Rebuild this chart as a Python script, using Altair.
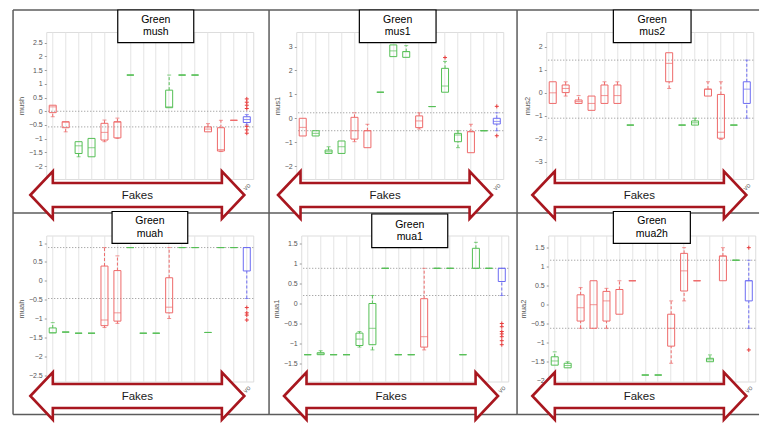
import altair as alt
import pandas as pd

CATS = [f"S{i}" for i in range(1, 16)] + ["VO"]
GROUPS = ["R", "G", "B"]

# ---------------- panel 1 : mush
MUSH_GRP = ["R", "R", "G", "G", "R", "R", "G", None, None, "G", "G", "G", "R", "R", "R", "B"]
MUSH_LO = [-0.20, -0.75, -1.66, -1.66, -1.11, -0.99, 1.32, None, None, 0.13, 1.32, 1.32, -0.75, -1.47, -0.33, -0.50]
MUSH_Q1 = [-0.05, -0.60, -1.54, -1.66, -1.05, -0.97, 1.32, None, None, 0.13, 1.32, 1.32, -0.75, -1.45, -0.33, -0.41]
MUSH_MED = [0.16, -0.40, -1.26, -1.33, -0.77, -0.40, 1.32, None, None, 0.16, 1.32, 1.32, -0.65, -1.40, -0.33, -0.30]
MUSH_Q3 = [0.22, -0.38, -1.11, -0.99, -0.44, -0.38, 1.32, None, None, 0.77, 1.32, 1.32, -0.57, -0.60, -0.33, -0.20]
MUSH_HI = [0.22, -0.38, -1.11, -0.99, -0.32, -0.25, 1.32, None, None, 1.32, 1.32, 1.32, -0.45, -0.33, -0.33, -0.12]
MUSH_OUT_CAT = ["VO"] * 7
MUSH_OUT_VAL = [0.45, 0.33, 0.22, 0.10, -0.55, -0.68, -0.80]
MUSH_REF = [0.0, -0.57]
MUSH_TICKS = [-2, -1.5, -1, -0.5, 0, 0.5, 1, 1.5, 2, 2.5]

# ---------------- panel 2 : mus1
MUS1_GRP = ["R", "G", "G", "G", "R", "R", "G", "G", "G", "R", "G", "G", "G", "R", "G", "B"]
MUS1_LO = [-0.74, -0.74, -1.47, -1.47, -0.98, -1.23, 1.09, 2.58, 2.55, -0.45, 0.49, 1.09, -1.23, -1.44, -0.52, -0.52]
MUS1_Q1 = [-0.74, -0.74, -1.47, -1.47, -0.87, -1.23, 1.09, 2.58, 2.55, -0.39, 0.49, 1.09, -0.98, -1.44, -0.52, -0.24]
MUS1_MED = [-0.38, -0.63, -1.40, -1.19, -0.52, -0.52, 1.09, 2.82, 2.79, -0.11, 0.49, 1.35, -0.70, -0.56, -0.52, -0.13]
MUS1_Q3 = [0.00, -0.52, -1.33, -0.95, 0.04, -0.52, 1.09, 3.07, 2.79, 0.10, 0.49, 2.09, -0.63, -0.56, -0.52, 0.00]
MUS1_HI = [0.00, -0.52, -1.19, -0.95, 0.23, -0.25, 1.09, 3.07, 3.04, 0.23, 0.49, 2.38, -0.52, -0.25, -0.52, 0.23]
MUS1_OUT_CAT = ["S12", "VO", "VO"]
MUS1_OUT_VAL = [2.54, 0.50, -0.73]
MUS1_REF = [0.23, -0.52]
MUS1_TICKS = [-2, -1, 0, 1, 2, 3]

# ---------------- panel 3 : mus2
MUS2_GRP = ["R", "R", "R", "R", "R", "R", "G", None, None, "R", "G", "G", "R", "R", "G", "B"]
MUS2_LO = [-0.46, -0.14, -0.46, -0.76, -0.46, -0.46, -1.40, None, None, 0.19, -1.40, -1.40, -0.14, -2.02, -1.40, -1.10]
MUS2_Q1 = [-0.46, 0.01, -0.46, -0.76, -0.46, -0.46, -1.40, None, None, 0.48, -1.40, -1.40, -0.14, -1.97, -1.40, -0.46]
MUS2_MED = [0.00, 0.19, -0.38, -0.46, -0.12, -0.12, -1.40, None, None, 1.28, -1.40, -1.30, 0.16, -1.71, -1.40, 0.16]
MUS2_Q3 = [0.48, 0.34, -0.31, -0.14, 0.34, 0.34, -1.40, None, None, 1.74, -1.40, -1.22, 0.16, -0.07, -1.40, 0.48]
MUS2_HI = [0.48, 0.48, -0.12, -0.14, 0.48, 0.48, -1.40, None, None, 1.74, -1.40, -1.10, 0.48, 0.48, -1.40, 1.42]
MUS2_OUT_CAT = []
MUS2_OUT_VAL = []
MUS2_REF = [1.42, -1.10]
MUS2_TICKS = [-3, -2, -1, 0, 1, 2]

# ---------------- panel 4 : muah
MUAH_GRP = ["G", "G", "G", "G", "R", "R", "G", "G", "G", "R", "G", "G", "G", "G", "G", "B"]
MUAH_LO = [-1.38, -1.36, -1.39, -1.39, -1.24, -1.13, 0.88, -1.39, -1.39, -1.00, 0.88, 0.88, -1.37, 0.88, 0.88, -0.47]
MUAH_Q1 = [-1.38, -1.36, -1.39, -1.39, -1.19, -1.07, 0.88, -1.39, -1.39, -0.85, 0.88, 0.88, -1.37, 0.88, 0.88, 0.26]
MUAH_MED = [-1.38, -1.36, -1.39, -1.39, -1.04, -0.85, 0.88, -1.39, -1.39, -0.70, 0.88, 0.88, -1.37, 0.88, 0.88, 0.88]
MUAH_Q3 = [-1.25, -1.36, -1.39, -1.39, 0.39, 0.27, 0.88, -1.39, -1.39, 0.08, 0.88, 0.88, -1.37, 0.88, 0.88, 0.88]
MUAH_HI = [-1.11, -1.36, -1.39, -1.39, 0.88, 0.66, 0.88, -1.39, -1.39, 0.88, 0.88, 0.88, -1.37, 0.88, 0.88, 0.88]
MUAH_OUT_CAT = ["VO"] * 4
MUAH_OUT_VAL = [-0.71, -0.85, -0.91, -1.04]
MUAH_REF = [0.88, -0.47]
MUAH_TICKS = [-2.5, -2, -1.5, -1, -0.5, 0, 0.5, 1]

# ---------------- panel 5 : mua1
MUA1_GRP = ["G", "G", "G", "G", "G", "G", "G", "G", "G", "R", "G", "G", "G", "G", "G", "B"]
MUA1_LO = [-1.28, -1.28, -1.28, -1.28, -1.09, -1.16, 0.88, -1.28, -1.28, -1.16, 0.88, 0.88, -1.28, 0.88, 0.88, 0.20]
MUA1_Q1 = [-1.28, -1.28, -1.28, -1.28, -1.05, -1.03, 0.88, -1.28, -1.28, -1.09, 0.88, 0.88, -1.28, 0.88, 0.88, 0.55]
MUA1_MED = [-1.28, -1.26, -1.28, -1.28, -0.89, -0.62, 0.88, -1.28, -1.28, -0.83, 0.88, 0.88, -1.28, 0.88, 0.88, 0.88]
MUA1_Q3 = [-1.28, -1.23, -1.28, -1.28, -0.74, 0.00, 0.88, -1.28, -1.28, 0.12, 0.88, 0.88, -1.28, 1.38, 0.88, 0.88]
MUA1_HI = [-1.28, -1.18, -1.28, -1.28, -0.70, 0.20, 0.88, -1.28, -1.28, 0.88, 0.88, 0.88, -1.28, 1.53, 0.88, 0.88]
MUA1_OUT_CAT = ["VO"] * 7
MUA1_OUT_VAL = [-0.50, -0.58, -0.70, -0.76, -0.83, -0.93, -1.03]
MUA1_REF = [0.88, 0.20]
MUA1_TICKS = [-1.5, -1, -0.5, 0, 0.5, 1, 1.5]

# ---------------- panel 6 : mua2h
MUA2_GRP = ["G", "G", "R", "R", "R", "R", "R", "G", "G", "R", "R", "R", "G", "R", "G", "B"]
MUA2_LO = [-1.59, -1.66, -0.62, -0.62, -0.62, -0.25, 0.63, -1.85, -1.85, -1.54, 0.10, 0.63, -1.50, 0.63, 1.17, -0.62]
MUA2_Q1 = [-1.59, -1.66, -0.43, -0.62, -0.43, -0.25, 0.63, -1.85, -1.85, -1.09, 0.36, 0.63, -1.50, 0.63, 1.17, 0.10]
MUA2_MED = [-1.48, -1.60, -0.08, 0.00, 0.10, 0.40, 0.63, -1.85, -1.85, -0.62, 0.89, 0.63, -1.45, 1.28, 1.17, 0.63]
MUA2_Q3 = [-1.37, -1.54, 0.26, 0.63, 0.35, 0.40, 0.63, -1.85, -1.85, -0.25, 1.35, 0.63, -1.41, 1.28, 1.17, 0.63]
MUA2_HI = [-1.24, -1.50, 0.45, 0.63, 0.43, 0.63, 0.63, -1.85, -1.85, 0.10, 1.50, 0.63, -1.32, 1.50, 1.17, 1.17]
MUA2_OUT_CAT = ["VO", "VO"]
MUA2_OUT_VAL = [1.50, -1.19]
MUA2_REF = [1.17, -0.62]
MUA2_TICKS = [-2, -1.5, -1, -0.5, 0, 0.5, 1, 1.5]

# ---------------- styling / layout
FONT = "Liberation Sans"
RED, GREEN, BLUE = "#ee6a6a", "#55bf55", "#6c6cf2"
OUT_RED = "#e83c3c"
ARROW_RED = "#a8171f"
FRAME = "#5c5c5c"
PLOT_W = 207
TITLE_LH = 12.3
ARROW_PATH = ("M-1,0L-0.79,-0.222L-0.79,-0.112L0.79,-0.112L0.79,-0.222L1,0"
              "L0.79,0.222L0.79,0.112L-0.79,0.112L-0.79,0.222Z")
ARROW_SIZE = 214 ** 2
PLUS_PATH = "M-1,0L1,0M0,-1L0,1"

PANELS = [
    dict(word="mush", ytitle="mush", grp=MUSH_GRP, lo=MUSH_LO, q1=MUSH_Q1, med=MUSH_MED, q3=MUSH_Q3, hi=MUSH_HI,
         oc=MUSH_OUT_CAT, ov=MUSH_OUT_VAL, refs=MUSH_REF, ticks=MUSH_TICKS, dom=[-2.47, 2.89], h=147,
         origin=(45.2, 27), box=(116.7, 5, 192.7, 37.7), arrow=(136.3, 190),
         frame=[(12, 5, 268, 5), (12, 5, 12, 208), (12, 208, 268, 208)]),
    dict(word="mus1", ytitle="mus1", grp=MUS1_GRP, lo=MUS1_LO, q1=MUS1_Q1, med=MUS1_MED, q3=MUS1_Q3, hi=MUS1_HI,
         oc=MUS1_OUT_CAT, ov=MUS1_OUT_VAL, refs=MUS1_REF, ticks=MUS1_TICKS, dom=[-2.54, 3.61], h=147,
         origin=(295.2, 27), box=(358.3, 5, 435, 37.7), arrow=(384, 190),
         frame=[(268, 5, 516, 5), (268, 5, 268, 208), (268, 208, 516, 208)]),
    dict(word="mus2", ytitle="mus2", grp=MUS2_GRP, lo=MUS2_LO, q1=MUS2_Q1, med=MUS2_MED, q3=MUS2_Q3, hi=MUS2_HI,
         oc=MUS2_OUT_CAT, ov=MUS2_OUT_VAL, refs=MUS2_REF, ticks=MUS2_TICKS, dom=[-3.74, 2.64], h=147,
         origin=(545.2, 27), box=(612.3, 5, 690, 37.7), arrow=(638.3, 190),
         frame=[(516, 5, 758, 5), (516, 5, 516, 208), (516, 208, 758, 208)]),
    dict(word="muah", ytitle="muah", grp=MUAH_GRP, lo=MUAH_LO, q1=MUAH_Q1, med=MUAH_MED, q3=MUAH_Q3, hi=MUAH_HI,
         oc=MUAH_OUT_CAT, ov=MUAH_OUT_VAL, refs=MUAH_REF, ticks=MUAH_TICKS, dom=[-2.67, 1.2], h=146,
         origin=(45.2, 230.5), box=(111, 206.5, 186.7, 238.3), arrow=(136.3, 391),
         frame=[(12, 208, 12, 409.5), (12, 409.5, 268, 409.5)]),
    dict(word="mua1", ytitle="mua1", grp=MUA1_GRP, lo=MUA1_LO, q1=MUA1_Q1, med=MUA1_MED, q3=MUA1_Q3, hi=MUA1_HI,
         oc=MUA1_OUT_CAT, ov=MUA1_OUT_VAL, refs=MUA1_REF, ticks=MUA1_TICKS, dom=[-1.95, 1.70], h=146,
         origin=(300.2, 230.5), box=(370.7, 209, 446.7, 242.7), arrow=(390, 391),
         frame=[(268, 208, 268, 409.5), (268, 409.5, 516, 409.5)]),
    dict(word="mua2h", ytitle="mua2", grp=MUA2_GRP, lo=MUA2_LO, q1=MUA2_Q1, med=MUA2_MED, q3=MUA2_Q3, hi=MUA2_HI,
         oc=MUA2_OUT_CAT, ov=MUA2_OUT_VAL, refs=MUA2_REF, ticks=MUA2_TICKS, dom=[-2.02, 1.82], h=146,
         origin=(547.2, 230.5), box=(612.3, 206.5, 689.3, 238.3), arrow=(638.3, 391),
         frame=[(516, 208, 516, 409.5), (516, 409.5, 758, 409.5)]),
]


def make_panel(p):
    ox, oy = p["origin"]
    rows = [dict(cat=c, grp=g, lo=a, q1=b, med=m, q3=d, hi=e)
            for c, g, a, b, m, d, e in zip(CATS, p["grp"], p["lo"], p["q1"], p["med"], p["q3"], p["hi"]) if g]
    df = pd.DataFrame(rows)
    one = pd.DataFrame({"k": [0]})

    xs = alt.Scale(domain=CATS, paddingInner=0, paddingOuter=0)
    ys = alt.Scale(domain=p["dom"], nice=False, zero=False)
    cs = alt.Scale(domain=GROUPS, range=[RED, GREEN, BLUE])
    col = alt.Color("grp:N", scale=cs, legend=None)

    xaxis = alt.Axis(title=None, grid=True, gridColor="#e4e4e4", bandPosition=0.5,
                     domain=False, ticks=False, labelExpr="datum.value == 'VO' ? 'vo' : ''",
                     labelAngle=315, labelFontSize=7, labelColor="#666", labelPadding=2)
    yaxis = alt.Axis(values=p["ticks"], title=p["ytitle"], format="~g",
                     labelFontSize=7, labelColor="#555",
                     titleFontSize=7.5, titleFontWeight="normal", titleColor="#555", titlePadding=3,
                     domain=False, tickSize=2, tickColor="#999", labelPadding=2, grid=False)

    # every layer carries the same axis definition so the shared axes merge cleanly
    def X():
        return alt.X("cat:N", scale=xs, axis=xaxis)

    def Y(f):
        return alt.Y(f"{f}:Q", scale=ys, axis=yaxis)

    base = alt.Chart(df)
    layers = []
    layers.append(alt.Chart(pd.DataFrame({"ref": p["refs"]})).mark_rule(
        color="#8c8c8c", strokeDash=[1, 2], strokeWidth=1).encode(y=Y("ref")))
    layers.append(base.mark_rule(strokeDash=[3, 2], strokeWidth=1).encode(
        x=X(), y=Y("q3"), y2="hi", color=col))
    layers.append(base.mark_rule(strokeDash=[3, 2], strokeWidth=1).encode(
        x=X(), y=Y("lo"), y2="q1", color=col))
    layers.append(base.mark_tick(size=4, thickness=1).encode(
        x=X(), y=Y("hi"), color=col).transform_filter("datum.hi > datum.q3"))
    layers.append(base.mark_tick(size=4, thickness=1).encode(
        x=X(), y=Y("lo"), color=col).transform_filter("datum.lo < datum.q1"))
    layers.append(base.mark_bar(size=7, fillOpacity=0, strokeWidth=1).encode(
        x=X(), y=Y("q1"), y2="q3", stroke=alt.Stroke("grp:N", scale=cs, legend=None)))
    layers.append(base.mark_tick(size=7, thickness=1).encode(x=X(), y=Y("med"), color=col))
    if p["ov"]:
        out = pd.DataFrame({"cat": p["oc"], "val": p["ov"]})
        layers.append(alt.Chart(out).mark_point(shape=PLUS_PATH, size=16, filled=False, strokeWidth=1,
                                                color=OUT_RED, opacity=1).encode(x=X(), y=Y("val")))

    for (x1, y1, x2, y2) in p["frame"]:
        layers.append(alt.Chart(one).mark_rule(color=FRAME, strokeWidth=1.5).encode(
            x=alt.value(x1 - ox), x2=alt.value(x2 - ox), y=alt.value(y1 - oy), y2=alt.value(y2 - oy)))

    bx1, by1, bx2, by2 = p["box"]
    layers.append(alt.Chart(one).mark_rect(fill="white", stroke="black", strokeWidth=1.2).encode(
        x=alt.value(bx1 - ox), x2=alt.value(bx2 - ox), y=alt.value(by1 - oy), y2=alt.value(by2 - oy)))
    layers.append(alt.Chart(one).mark_text(text="Green\n" + p["word"], lineBreak="\n", fontSize=10.5,
                                           lineHeight=TITLE_LH, align="center", baseline="middle",
                                           color="black", font=FONT).encode(
        x=alt.value((bx1 + bx2) / 2 - ox), y=alt.value((by1 + by2) / 2 - TITLE_LH / 2 - oy)))

    ax, ay = p["arrow"]
    layers.append(alt.Chart(one).mark_point(shape=ARROW_PATH, size=ARROW_SIZE, filled=True, fill="white",
                                            stroke=ARROW_RED, strokeWidth=2.6, opacity=1,
                                            fillOpacity=1, strokeOpacity=1).encode(
        x=alt.value(ax - ox), y=alt.value(ay - oy)))
    layers.append(alt.Chart(one).mark_text(text="Fakes", fontSize=11.5, align="center", baseline="middle",
                                           color="#1a1a1a", font=FONT).encode(
        x=alt.value(ax - ox), y=alt.value(ay + 0.7 - oy)))

    return alt.layer(*layers).properties(width=PLOT_W, height=p["h"])


P = [make_panel(p) for p in PANELS]
row1 = alt.hconcat(P[0], P[1], P[2], spacing=43, bounds="flush")
row2 = alt.hconcat(P[3], alt.hconcat(P[4], P[5], spacing=40, bounds="flush"), spacing=48, bounds="flush")
# with flush bounds a nested concat counts as zero height, so the row step is plot height + gap
chart = alt.vconcat(row1, row2, spacing=147 + 56.5, bounds="flush").properties(
    padding={"left": 3.25, "top": 0, "right": 0, "bottom": 0},
    background="white",
).configure_view(stroke="#b3b3b3", strokeWidth=1).configure(font=FONT)

chart.save("out.html", embed_options={"renderer": "svg", "actions": False})
